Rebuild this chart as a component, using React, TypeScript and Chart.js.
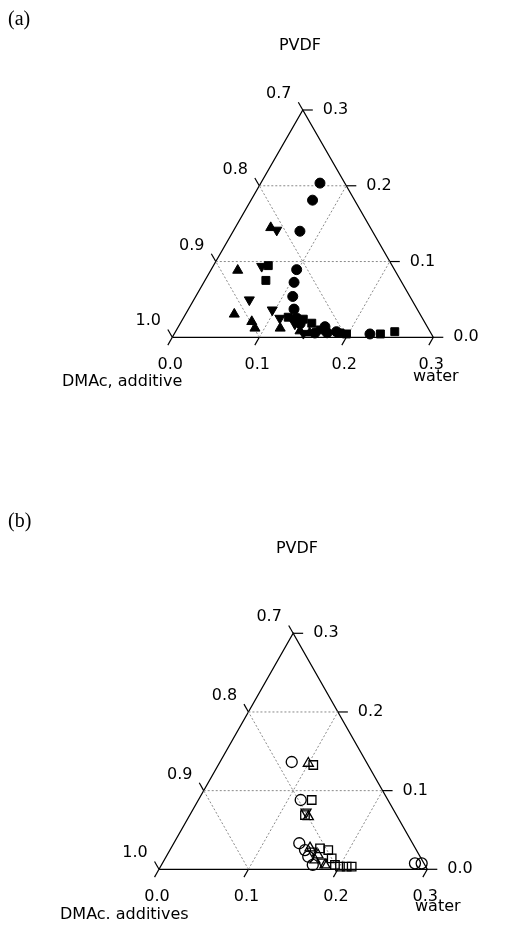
import React, { useEffect, useRef } from "react";
import { Chart, registerables } from "chart.js";

Chart.register(...registerables);

// ---- tick values and labels (composition fractions) ----
const TICKS = [0, 0.1, 0.2, 0.3];
const GRID = [0.1, 0.2];
const WATER_LABELS = ["0.0", "0.1", "0.2", "0.3"]; // bottom axis
const DMAC_LABELS = ["1.0", "0.9", "0.8", "0.7"]; // left axis
const PVDF_LABELS = ["0.0", "0.1", "0.2", "0.3"]; // right axis

// ---- panel (a): [water, PVDF] ----
const aCircles: number[][] = [
  [0.068, 0.2035], [0.0707, 0.181], [0.0767, 0.14], [0.0983, 0.0893],
  [0.1037, 0.0725], [0.1115, 0.0539], [0.1213, 0.0372], [0.13, 0.0256],
  [0.138, 0.018], [0.1685, 0.014], [0.185, 0.0074], [0.161, 0.0057],
  [0.175, 0.006], [0.225, 0.0044],
];
const aSquares: number[][] = [
  [0.063, 0.0946], [0.07, 0.0751], [0.12, 0.0265], [0.1386, 0.0239],
  [0.151, 0.0186], [0.165, 0.0097], [0.19, 0.0057], [0.198, 0.0044],
  [0.237, 0.0044], [0.252, 0.0074],
];
const aTrianglesUp: number[][] = [
  [0.0408, 0.1447], [0.031, 0.0884], [0.056, 0.0305], [0.081, 0.0207],
  [0.089, 0.012], [0.118, 0.012], [0.1426, 0.0084], [0.155, 0.0057],
];
const aTrianglesDown: number[][] = [
  [0.0493, 0.1415], [0.0559, 0.0937], [0.0638, 0.0495], [0.0968, 0.0362],
  [0.111, 0.0252], [0.132, 0.0177], [0.148, 0.0053],
];

// ---- panel (b): [water, PVDF] ----
const bCircles: number[][] = [
  [0.0802, 0.1364], [0.1144, 0.0881], [0.1403, 0.0331], [0.151, 0.0245],
  [0.1589, 0.016], [0.1692, 0.0055], [0.2824, 0.0076], [0.2899, 0.0076],
];
const bTrianglesUp: number[][] = [
  [0.0996, 0.1347], [0.1335, 0.0669], [0.1553, 0.0271], [0.1687, 0.0182],
  [0.1685, 0.0118], [0.1829, 0.0055],
];
const bSquares: number[][] = [
  [0.1062, 0.1326], [0.1267, 0.0881], [0.1287, 0.069], [0.1667, 0.0267],
  [0.177, 0.0245], [0.1861, 0.014], [0.194, 0.0055], [0.2007, 0.0033],
  [0.2082, 0.0033], [0.2138, 0.0033],
];
const bTrianglesDown: number[][] = [
  [0.128, 0.0728], [0.1594, 0.0233], [0.1776, 0.0093],
];

const MAXV = 0.3;
const SANS = "16px 'DejaVu Sans', Arial, sans-serif";
const SERIF = "20px 'Liberation Serif', 'Times New Roman', serif";

// ternary (water, PVDF) -> cartesian data coords
const toXY = (w: number, p: number) => ({ x: w + p / 2, y: p });

function lineDataset(pts: { x: number; y: number }[], color: string, width: number, dash: number[]) {
  return {
    type: "scatter" as const,
    data: pts,
    showLine: true,
    borderColor: color,
    borderWidth: width,
    borderDash: dash,
    pointRadius: 0,
    fill: false,
    clip: false as any,
    order: 10,
  };
}

function markerDataset(pts: number[][], style: string, rotation: number, radius: number, filled: boolean) {
  return {
    type: "scatter" as const,
    data: pts.map(([w, p]) => toXY(w, p)),
    pointStyle: style,
    rotation,
    pointRadius: radius,
    pointBackgroundColor: filled ? "#000" : "rgba(0,0,0,0)",
    pointBorderColor: "#000",
    pointBorderWidth: filled ? 1 : 1.3,
    showLine: false,
    clip: false as any,
    order: 0,
  };
}

type Panel = {
  tag: string;
  leftTitle: string;
  pad: { left: number; right: number; top: number; bottom: number };
  tagY: number;
  pvdfPos: [number, number];
  leftTitlePos: [number, number];
  waterPos: [number, number];
  series: any[];
};

function makeDecor(panel: Panel) {
  return {
    id: "ternaryDecor",
    afterDraw(chart: any) {
      const ctx = chart.ctx;
      const xs = chart.scales.x;
      const ys = chart.scales.y;
      const px = (w: number, p: number) => {
        const c = toXY(w, p);
        return [xs.getPixelForValue(c.x), ys.getPixelForValue(c.y)];
      };
      ctx.save();
      ctx.strokeStyle = "#000";
      ctx.lineWidth = 1.2;
      const [ox, oy] = px(0, 0);
      const [ax, ay] = px(0, MAXV);
      const [rx, ry] = px(MAXV, 0);
      const lv = [ax - ox, ay - oy];
      const ll = Math.hypot(lv[0], lv[1]);
      const rv = [ax - rx, ay - ry];
      const rl = Math.hypot(rv[0], rv[1]);
      const T = 9;
      ctx.fillStyle = "#000";
      ctx.font = SANS;
      TICKS.forEach((t, i) => {
        // bottom axis (water)
        const [bx, by] = px(t, 0);
        ctx.beginPath();
        ctx.moveTo(bx, by);
        ctx.lineTo(bx - (lv[0] / ll) * T, by - (lv[1] / ll) * T);
        ctx.stroke();
        ctx.textAlign = "center";
        ctx.textBaseline = "middle";
        ctx.fillText(WATER_LABELS[i], bx - 2, by + 28);
        // left axis (DMAc)
        const [lx, ly] = px(0, t);
        ctx.beginPath();
        ctx.moveTo(lx, ly);
        ctx.lineTo(lx + (rv[0] / rl) * T, ly + (rv[1] / rl) * T);
        ctx.stroke();
        ctx.fillText(DMAC_LABELS[i], lx - 24, ly - 16);
        // right axis (PVDF)
        const [qx, qy] = px(MAXV - t, t);
        ctx.beginPath();
        ctx.moveTo(qx, qy);
        ctx.lineTo(qx + 10, qy);
        ctx.stroke();
        ctx.textAlign = "left";
        ctx.fillText(PVDF_LABELS[i], qx + 20, qy);
      });
      // titles
      ctx.textBaseline = "middle";
      ctx.textAlign = "left";
      ctx.font = SERIF;
      ctx.fillText(panel.tag, 8, panel.tagY);
      ctx.font = SANS;
      ctx.textAlign = "center";
      ctx.fillText("PVDF", panel.pvdfPos[0], panel.pvdfPos[1]);
      ctx.textAlign = "left";
      ctx.fillText(panel.leftTitle, panel.leftTitlePos[0], panel.leftTitlePos[1]);
      ctx.fillText("water", panel.waterPos[0], panel.waterPos[1]);
      ctx.restore();
    },
  };
}

function frameDatasets() {
  const sets: any[] = [];
  GRID.forEach((t) => {
    sets.push(lineDataset([toXY(0, t), toXY(MAXV - t, t)], "#8a8a8a", 1, [2, 2]));
    sets.push(lineDataset([toXY(t, 0), toXY(t, MAXV - t)], "#8a8a8a", 1, [2, 2]));
    sets.push(lineDataset([toXY(t, 0), toXY(0, t)], "#8a8a8a", 1, [2, 2]));
  });
  sets.push(
    lineDataset([toXY(0, 0), toXY(MAXV, 0), toXY(0, MAXV), toXY(0, 0)], "#000", 1.3, [])
  );
  return sets;
}

const panelA: Panel = {
  tag: "(a)",
  leftTitle: "DMAc, additive",
  pad: { left: 172.3, right: 77.7, top: 110, bottom: 128.7 },
  tagY: 20,
  pvdfPos: [300, 46],
  leftTitlePos: [62, 382],
  waterPos: [413, 377],
  series: [
    markerDataset(aCircles, "circle", 0, 5, true),
    markerDataset(aSquares, "rect", 0, 5.6, true),
    markerDataset(aTrianglesUp, "triangle", 0, 5.8, true),
    markerDataset(aTrianglesDown, "triangle", 180, 5.8, true),
  ],
};

const panelB: Panel = {
  tag: "(b)",
  leftTitle: "DMAc. additives",
  pad: { left: 159, right: 83.7, top: 167.3, bottom: 62.7 },
  tagY: 56,
  pvdfPos: [297, 83],
  leftTitlePos: [60, 449],
  waterPos: [415, 441],
  series: [
    markerDataset(bCircles, "circle", 0, 5.5, false),
    markerDataset(bSquares, "rect", 0, 6, false),
    markerDataset(bTrianglesUp, "triangle", 0, 5.8, false),
    markerDataset(bTrianglesDown, "triangle", 180, 5.8, false),
  ],
};

function TernaryChart({ panel, top }: { panel: Panel; top: number }) {
  const ref = useRef<HTMLCanvasElement | null>(null);
  useEffect(() => {
    if (!ref.current) return;
    const chart = new Chart(ref.current, {
      type: "scatter",
      data: { datasets: [...panel.series, ...frameDatasets()] },
      options: {
        animation: false,
        responsive: false,
        events: [],
        layout: { padding: panel.pad },
        scales: {
          x: { type: "linear", min: 0, max: MAXV, display: false },
          y: { type: "linear", min: 0, max: MAXV, display: false },
        },
        plugins: { legend: { display: false }, tooltip: { enabled: false } },
      },
      plugins: [makeDecor(panel)],
    } as any);
    return () => chart.destroy();
  }, [panel]);
  return (
    <canvas
      ref={ref}
      width={511}
      height={466}
      style={{ position: "absolute", left: 0, top, width: 511, height: 466, display: "block" }}
    />
  );
}

export default function App() {
  return (
    <div style={{ position: "absolute", left: 0, top: 0, width: 511, height: 932, background: "#fff" }}>
      <TernaryChart panel={panelA} top={0} />
      <TernaryChart panel={panelB} top={466} />
    </div>
  );
}
